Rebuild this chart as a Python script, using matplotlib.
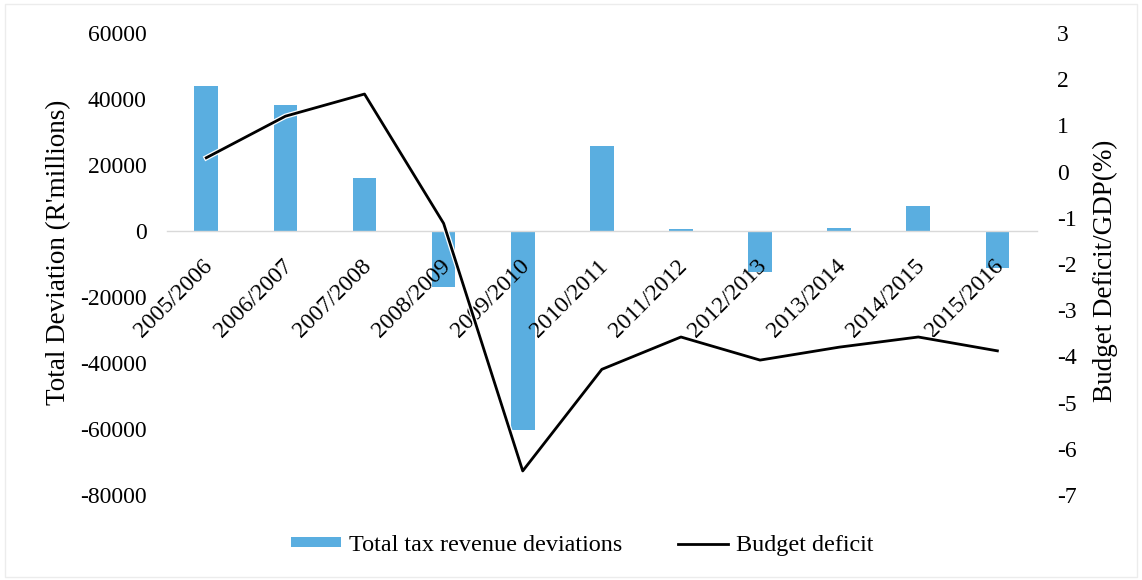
import matplotlib.pyplot as plt
import matplotlib.patheffects as pe
from matplotlib.patches import Rectangle
from matplotlib.transforms import ScaledTranslation
import numpy as np

plt.rcParams['font.family'] = ['Liberation Serif', 'DejaVu Serif']
plt.rcParams['axes.unicode_minus'] = False

years = ['2005/2006', '2006/2007', '2007/2008', '2008/2009', '2009/2010', '2010/2011',
         '2011/2012', '2012/2013', '2013/2014', '2014/2015', '2015/2016']
tax_deviation = [43900, 38200, 16000, -17000, -60300, 25800, 600, -12400, 900, 7600, -11200]
budget_deficit = [0.3, 1.2, 1.68, -1.12, -6.48, -4.28, -3.58, -4.08, -3.8, -3.58, -3.88]

BAR_COLOR = '#5AAEE0'
FS = 17

fig = plt.figure(figsize=(11.42, 5.8), dpi=100)
ax = fig.add_axes([0.146, 0.1466, 0.762, 0.7964])
ax2 = ax.twinx()

x = np.arange(len(years))
bars = ax.bar(x, tax_deviation, width=0.3, color=BAR_COLOR, zorder=1,
              label='Total tax revenue deviations')
line, = ax2.plot(x, budget_deficit, color='black', lw=2.0, label='Budget deficit',
                 path_effects=[pe.Stroke(linewidth=3.8, foreground='white'), pe.Normal()])

ax.set_xlim(-0.5, len(years) - 0.5)
ax.set_ylim(-80000, 60000)
ax.set_yticks(np.arange(-80000, 60001, 20000))
ax2.set_ylim(-7, 3)
ax2.set_yticks(np.arange(-7, 4, 1))

# category axis sits on the zero line
for s in ['top', 'left', 'right']:
    ax.spines[s].set_visible(False)
    ax2.spines[s].set_visible(False)
ax2.spines['bottom'].set_visible(False)
ax.spines['bottom'].set_position(('data', 0))
ax.spines['bottom'].set_color('#d9d9d9')
ax.spines['bottom'].set_linewidth(1.0)

ax.set_xticks(x)
ax.set_xticklabels(years, rotation=45, ha='right', va='top', rotation_mode='anchor',
                   fontsize=FS)
ax.tick_params(axis='x', length=0, pad=4)
shift = ScaledTranslation(-0.04, -0.19, fig.dpi_scale_trans)
for lab in ax.get_xticklabels():
    lab.set_transform(lab.get_transform() + shift)

ax.tick_params(axis='y', length=0, pad=14.5, labelsize=FS)
ax2.tick_params(axis='y', length=0, pad=14.5, labelsize=FS)

ax.set_ylabel("Total Deviation (R'millions)", fontsize=19.5)
ax.yaxis.set_label_coords(-0.11, 0.526)
ax2.set_ylabel('Budget Deficit/GDP(%)', fontsize=19.5)
ax2.yaxis.set_label_coords(1.064, 0.485)

fig.legend(handles=[bars, line], loc='center', bbox_to_anchor=(0.51, 0.06),
           ncol=2, frameon=False, fontsize=17.4, handlelength=2.07, handleheight=0.32,
           columnspacing=2.3, handletextpad=0.33)

# light chart border
fig.patches.append(Rectangle((0.004, 0.005), 0.992, 0.988, transform=fig.transFigure,
                             fill=False, edgecolor='#ececec', lw=1.0))

fig.savefig('out.png', dpi=100)
